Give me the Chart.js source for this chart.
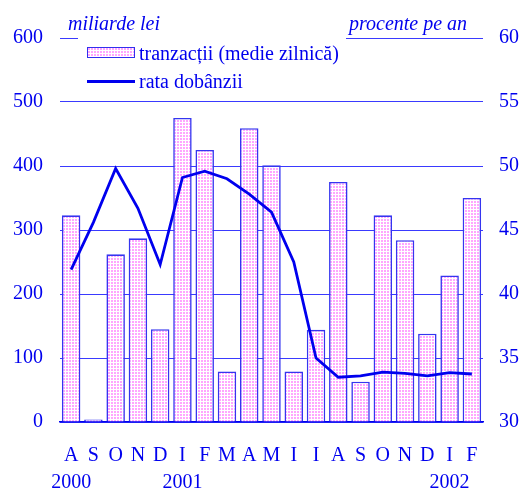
<!DOCTYPE html>
<html>
<head>
<meta charset="utf-8">
<script src="https://cdn.jsdelivr.net/npm/chart.js@4"></script>
<style>
  body { margin: 0; background: #fff; }
  #wrap { position: relative; width: 523px; height: 489px; }
  .ttl { position: absolute; top: 12px; font: italic 20px "Liberation Serif", serif; color: #0000ee; line-height: 22px; }
  #legend { position: absolute; left: 78px; top: 34px; width: 268px; height: 60px; background: #fff;
            font: 20px "Liberation Serif", serif; color: #0000ee; }
  .row { position: absolute; left: 9px; height: 20px; line-height: 20px; }
  .sw { position: absolute; left: 0; width: 48px; }
  .txt { position: absolute; left: 52px; white-space: nowrap; }
</style>
</head>
<body>
<div id="wrap">
  <canvas id="c" width="523" height="489"></canvas>
  <div class="ttl" style="left:68px">miliarde lei</div>
  <div class="ttl" style="left:349px">procente pe an</div>
  <div id="legend">
    <div class="row" style="top:9px">
      <div class="sw" id="boxSw" style="top:4px;height:11px;border:1.5px solid #3030ee;box-sizing:border-box;width:48px"></div>
      <div class="txt">tranzacții (medie zilnică)</div>
    </div>
    <div class="row" style="top:37px">
      <div class="sw" style="top:9px;height:2.5px;background:#0000ee"></div>
      <div class="txt">rata dobânzii</div>
    </div>
  </div>
</div>
<script>
const months = ["A", "S", "O", "N", "D", "I", "F", "M", "A", "M", "I", "I", "A", "S", "O", "N", "D", "I", "F"];
const years = ["2000", "", "", "", "", "2001", "", "", "", "", "", "", "", "", "", "", "", "2002", ""];
const tranzactii = [323, 4, 262, 287, 145, 475, 425, 79, 459, 401, 79, 144, 375, 63, 323, 284, 138, 229, 350];
const rataDobanzii = [41.9, 45.6, 49.8, 46.7, 42.3, 49.1, 49.6, 49.0, 47.8, 46.4, 42.5, 35.0, 33.5, 33.6, 33.9, 33.8, 33.6, 33.85, 33.75];

const BLUE = "#0000ee";
const FONT = "'Liberation Serif', 'Times New Roman', serif";

// pink dashed-dot fill like the original
function makePattern() {
  const t = document.createElement("canvas");
  t.width = 3; t.height = 3;
  const g = t.getContext("2d");
  g.fillStyle = "#ffffff";
  g.fillRect(0, 0, 3, 3);
  g.fillStyle = "#ffa6ff";
  g.fillRect(0, 0, 2, 2);
  return t;
}
const tile = makePattern();
const ctx = document.getElementById("c").getContext("2d");
const pinkDots = ctx.createPattern(tile, "repeat");
document.getElementById("boxSw").style.background = `url(${tile.toDataURL()})`;

new Chart(ctx, {
  data: {
    labels: months.map((m, i) => [m, years[i]]),
    datasets: [
      {
        type: "line",
        data: rataDobanzii,
        yAxisID: "y2",
        borderColor: BLUE,
        borderWidth: 2.8,
        pointRadius: 0,
        tension: 0,
        order: 0,
      },
      {
        type: "bar",
        data: tranzactii,
        yAxisID: "y",
        backgroundColor: pinkDots,
        borderColor: "#3535f0",
        borderWidth: 1.6,
        barPercentage: 0.83,
        categoryPercentage: 1,
        order: 1,
      },
    ],
  },
  options: {
    responsive: false,
    animation: false,
    devicePixelRatio: 1,
    layout: { padding: { top: 38, left: 0, right: 0, bottom: 0 } },
    plugins: { legend: { display: false }, tooltip: { enabled: false } },
    scales: {
      x: {
        grid: { display: false, drawTicks: false },
        border: { display: true, color: BLUE, width: 1.5 },
        ticks: {
          color: BLUE,
          font: { family: FONT, size: 20, lineHeight: 1.35 },
          padding: 20,
          autoSkip: false,
          maxRotation: 0,
        },
        afterFit: (s) => { s.height = 67; },
      },
      y: {
        position: "left",
        min: 0,
        max: 600,
        grid: { color: "#3a3aff", lineWidth: 1, drawTicks: false },
        border: { display: false },
        ticks: {
          stepSize: 100,
          color: BLUE,
          padding: 17,
          font: { family: FONT, size: 20 },
        },
        afterFit: (s) => { s.width = 60; },
      },
      y2: {
        position: "right",
        min: 30,
        max: 60,
        grid: { display: false, drawTicks: false },
        border: { display: false },
        ticks: {
          stepSize: 5,
          color: BLUE,
          padding: 16,
          font: { family: FONT, size: 20 },
        },
        afterFit: (s) => { s.width = 40; },
      },
    },
  },
});
</script>
</body>
</html>
